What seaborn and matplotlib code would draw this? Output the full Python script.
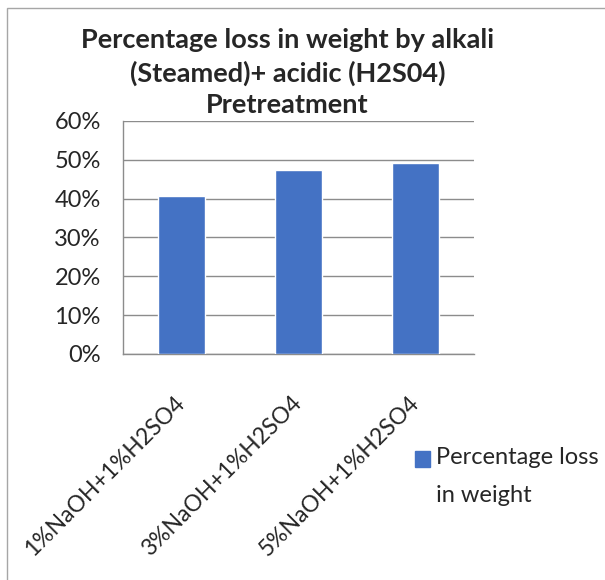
import matplotlib
matplotlib.use("Agg")
import matplotlib.pyplot as plt
import matplotlib.patches as mpatches
import seaborn as sns
import pandas as pd
from matplotlib.ticker import PercentFormatter

# data
treatments = ['1%NaOH+1%H2SO4', '3%NaOH+1%H2SO4', '5%NaOH+1%H2SO4']
loss_pct = [0.407, 0.473, 0.491]
series_lines = ['Percentage loss', 'in weight']
title_lines = ['Percentage loss in weight by alkali', '(Steamed)+ acidic (H2S04)', 'Pretreatment']

df = pd.DataFrame({'Treatment': treatments, 'Loss': loss_pct})

sns.set_style('white')
plt.rcParams['font.family'] = ['Lato', 'DejaVu Sans']

W, H = 605, 580
fig = plt.figure(figsize=(W / 100, H / 100), dpi=100)
ax = fig.add_axes([0.2033, 0.3897, 0.5802, 0.4017])

sns.barplot(data=df, x='Treatment', y='Loss', color='#4472C4', width=0.4,
            saturation=1, ax=ax, zorder=3)

ax.set_ylim(0, 0.6)
ax.set_yticks([0, 0.1, 0.2, 0.3, 0.4, 0.5, 0.6])
ax.yaxis.set_major_formatter(PercentFormatter(1.0, decimals=0))
ax.grid(axis='y', color='#8c8c8c', linewidth=1, zorder=0)
ax.set_axisbelow(True)
ax.set_xlim(-0.5, 2.5)
ax.set_xlabel('')
ax.set_ylabel('')

for s in ['top', 'right']:
    ax.spines[s].set_visible(False)
for s in ['left', 'bottom']:
    ax.spines[s].set_color('#8c8c8c')
    ax.spines[s].set_linewidth(1)

# tick marks between categories, labels at category centers
ax.set_xticks([-0.5, 0.5, 1.5, 2.5], minor=True)
ax.tick_params(axis='x', which='minor', length=7, color='#8c8c8c', direction='out')
ax.tick_params(axis='x', which='major', length=0, pad=33)
ax.tick_params(axis='y', length=7, color='#8c8c8c', direction='out', labelsize=17, pad=9)
plt.setp(ax.get_xticklabels(), rotation=45, ha='right', va='center',
         rotation_mode='anchor', fontsize=16.5)

# title, one text per line
for line, ypx in zip(title_lines, [40, 73, 105]):
    fig.text(0.475, 1 - ypx / H, line, ha='center', va='center',
             fontsize=19.5, fontweight='bold')

# legend drawn by hand so the wrapped label gets the wider line spacing
fig.patches.append(mpatches.Rectangle((415 / W, 1 - 467 / H), 15 / W, 16 / H,
                                      transform=fig.transFigure, color='#4472C4'))
for line, ypx in zip(series_lines, [458, 496]):
    fig.text(436 / W, 1 - ypx / H, line, ha='left', va='center', fontsize=17)

# outer chart frame
fig.patches.append(mpatches.Rectangle((7 / W, -0.1), 1.2, 1 - 8 / H + 0.1,
                                      transform=fig.transFigure, fill=False,
                                      edgecolor='#a6a6a6', linewidth=1))

fig.savefig('out.png', dpi=100)
